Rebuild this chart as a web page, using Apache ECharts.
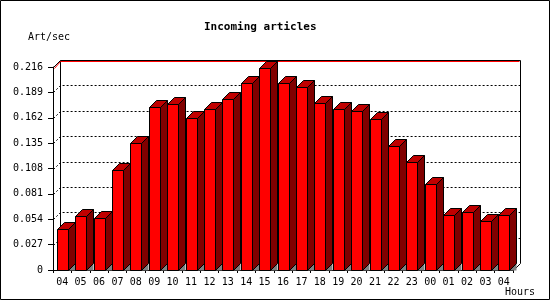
<!DOCTYPE html>
<html><head><meta charset="utf-8">
<script src="https://cdn.jsdelivr.net/npm/echarts@6/dist/echarts.min.js"></script>
<style>html,body{margin:0;padding:0;background:#fff}#c{width:550px;height:300px}</style>
</head><body><div id="c"></div>
<script>
// ---- data ----
const hours = ['04','05','06','07','08','09','10','11','12','13','14','15','16','17','18','19','20','21','22','23','00','01','02','03','04'];
const artPerSec = [0.0436,0.0575,0.0553,0.1061,0.1348,0.1731,0.1763,0.1614,0.1710,0.1816,0.1987,0.2146,0.1987,0.1944,0.1774,0.1710,0.1689,0.1604,0.1316,0.1152,0.0915,0.0585,0.0617,0.0521,0.0585];
const yTickValues = [0,0.027,0.054,0.081,0.108,0.135,0.162,0.189,0.216];
const yTickLabels = ['0','0.027','0.054','0.081','0.108','0.135','0.162','0.189','0.216'];
const titleText = 'Incoming articles';
const yName = 'Art/sec';
const xName = 'Hours';

// ---- drawing ----
const D = 7;
const MONO = 'DejaVu Sans Mono';
const chart = echarts.init(document.getElementById('c'), null, {renderer: 'canvas'});
const yStep = yTickValues[1] - yTickValues[0];
const yMax = yTickValues[yTickValues.length - 1];
function px(v){ return Math.round(v) + 0.5; }

function renderBack(params, api){
  const cs = params.coordSys;
  const L = px(cs.x), R = px(cs.x + cs.width), T = px(cs.y), B = px(cs.y + cs.height);
  const ch = [];
  yTickValues.forEach(v => {
    if (v <= 0 || v >= yMax) return;
    const y = px(api.coord([0, v])[1]);
    ch.push({type:'polyline', shape:{points:[[L, y],[L + D, y - D],[R + D, y - D]]},
      style:{stroke:'#000', lineWidth:1, lineDash:[2,2], fill:null}});
  });
  const line = (pts, c) => ch.push({type:'polyline', shape:{points:pts}, style:{stroke:c, lineWidth:1, fill:null}});
  line([[L + D, T - D],[L + D, B - D]], '#000');
  line([[R + D, T - D],[R + D, B - D]], '#000');
  line([[R, B],[R + D, B - D]], '#000');
  line([[L + 1, T + 1],[L + D, T - D + 1],[R + D - 1, T - D + 1]], '#ff0000');
  line([[L, T],[L + D, T - D],[R + D, T - D]], '#000');
  return {type:'group', children: ch};
}

function renderBar(params, api){
  const i = api.value(0), v = api.value(1);
  const top = api.coord([i, v]);
  const base = api.coord([i, 0]);
  const fl = Math.round(top[0] - 5.5) + 0.5;
  const fr = fl + 11;
  const yt = px(top[1]);
  const y0 = px(base[1]);
  const st = {stroke:'#000', lineWidth:1};
  return {type:'group', children:[
    {type:'polygon', shape:{points:[[fr, y0],[fr + D, y0 - D],[fr + D, y0]]}, style:{fill:'#808080'}},
    {type:'polygon', shape:{points:[[fr, yt],[fr + D, yt - D],[fr + D, y0 - D],[fr, y0]]}, style:Object.assign({fill:'#800000'}, st)},
    {type:'polygon', shape:{points:[[fl, yt],[fl + D, yt - D],[fr + D, yt - D],[fr, yt]]}, style:Object.assign({fill:'#c00000'}, st)},
    {type:'rect', shape:{x:fl, y:yt, width:fr - fl, height:y0 - yt}, style:Object.assign({fill:'#ff0000'}, st)}
  ]};
}

chart.setOption({
  animation: false,
  backgroundColor: '#fff',
  title: {text: titleText, left: 204, top: 22, padding: 0,
    textStyle: {fontFamily: MONO, fontSize: 11, fontWeight: 'bold', color: '#000'}},
  grid: {left: 53, right: 37, top: 67, bottom: 30},
  xAxis: {type: 'category', data: hours, boundaryGap: true,
    axisLine: {lineStyle: {color: '#000', width: 1}},
    axisTick: {show: true, length: 3, lineStyle: {color: '#000'}},
    axisLabel: {interval: 0, margin: 7, color: '#000', fontFamily: MONO, fontSize: 10},
    splitLine: {show: false}},
  yAxis: {type: 'value', min: yTickValues[0], max: yMax, interval: yStep,
    axisLine: {show: true, lineStyle: {color: '#000', width: 1}},
    axisTick: {show: true, length: 5, lineStyle: {color: '#000'}},
    axisLabel: {margin: 10, color: '#000', fontFamily: MONO, fontSize: 10,
      formatter: v => yTickLabels[Math.round(v / yStep)]},
    splitLine: {show: false}},
  graphic: [
    {type: 'rect', shape: {x: 0.5, y: 0.5, width: 549, height: 299}, style: {fill: null, stroke: '#000', lineWidth: 1}, z: 100},
    {type: 'text', left: 28, top: 32, style: {text: yName, fontFamily: MONO, fontSize: 10, fill: '#000'}},
    {type: 'text', left: 505, top: 287, style: {text: xName, fontFamily: MONO, fontSize: 10, fill: '#000'}}
  ],
  series: [
    {type: 'custom', data: [[0, 0]], renderItem: renderBack, silent: true, z: 1, encode: {x: 0, y: 1}},
    {type: 'custom', data: artPerSec.map((v, i) => [i, v]), renderItem: renderBar, silent: true, z: 2, encode: {x: 0, y: 1}}
  ]
});
</script>
</body></html>
